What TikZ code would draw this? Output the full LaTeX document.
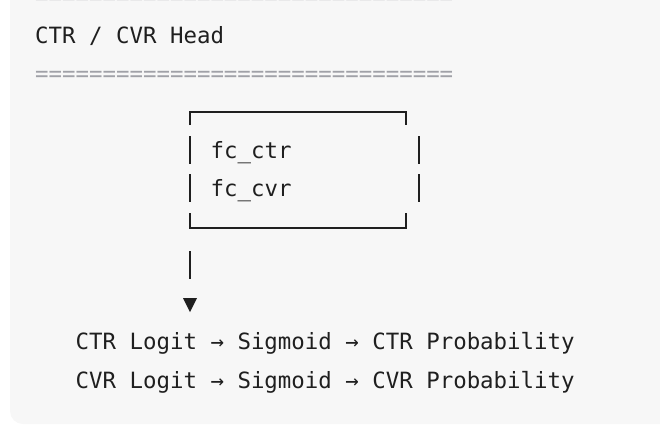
\documentclass[tikz,border=0pt]{standalone}
\usepackage{fontspec}
\setmonofont{DejaVu Sans Mono}
\definecolor{codebg}{HTML}{F7F7F7}
\definecolor{codeink}{HTML}{1F1F1F}
\definecolor{rulegray}{HTML}{A0A1A7}
\begin{document}
\begin{tikzpicture}[x=1pt,y=-1pt,
	code/.style={anchor=base west,inner sep=0pt,text=codeink,font=\ttfamily\fontsize{22.4pt}{38pt}\selectfont},
	rulerow/.style={code,text=rulegray},
	boxline/.style={color=codeink,line width=1.7pt}]
	\clip (0,0) rectangle (660,426);
	\fill [codebg,rounded corners=13pt] (10,-20) rectangle (690,424);

	\node [rulerow] (ruletop) at (35,4.7) {===============================};
	\node [code] (title) at (35,43) {CTR / CVR Head};
	\node [rulerow] (rulemid) at (35,81.3) {===============================};

	\draw [boxline] (190,125) -- (190,112) -- (406,112) -- (406,125);
	\draw [boxline] (190,136) -- (190,164);
	\draw [boxline] (190,174) -- (190,202);
	\draw [boxline] (419,136) -- (419,164);
	\draw [boxline] (419,174) -- (419,202);
	\draw [boxline] (190,213) -- (190,228) -- (406,228) -- (406,213);
	\node [code] (fcctr) at (210.5,158) {fc\_ctr};
	\node [code] (fccvr) at (210.5,196.3) {fc\_cvr};

	\coordinate (stemtop) at (190,251);
	\coordinate (stembot) at (190,279);
	\coordinate (tip) at (190,312);
	\draw [boxline] (stemtop) -- (stembot);
	\fill [codeink] (183,298) -- (197,298) -- (tip) -- cycle;

	\node [code] (ctrout) at (75.5,349.7) {CTR Logit → Sigmoid → CTR Probability};
	\node [code] (cvrout) at (75.5,388) {CVR Logit → Sigmoid → CVR Probability};
\end{tikzpicture}
\end{document}
